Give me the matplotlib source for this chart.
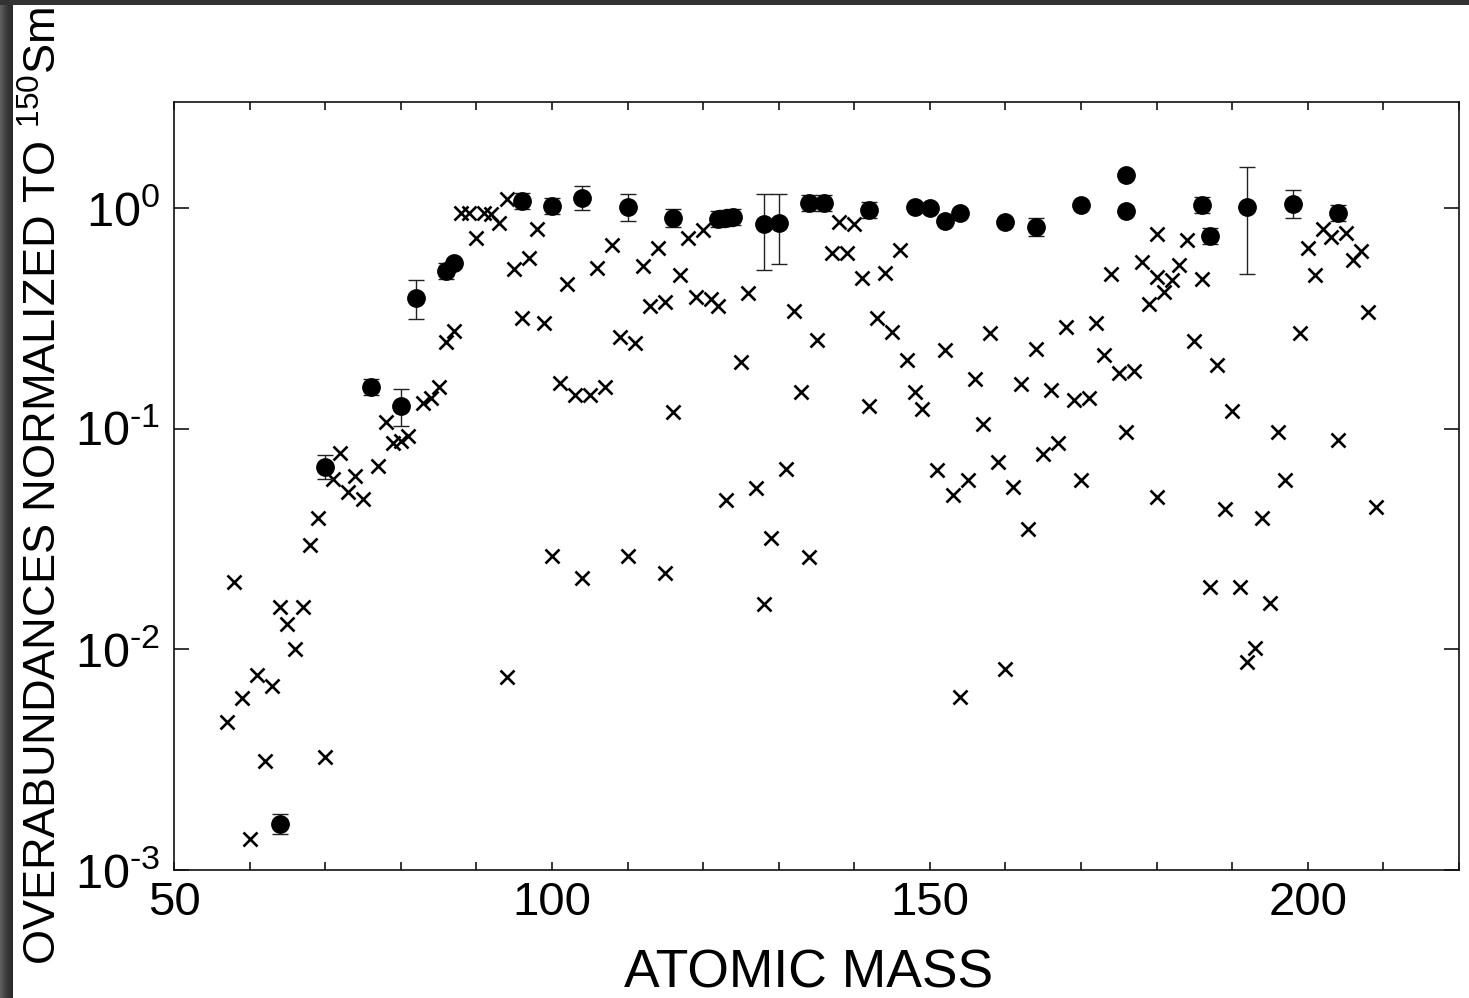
import math
import matplotlib
matplotlib.use("Agg")
import matplotlib.pyplot as plt
from matplotlib.patches import Rectangle
from matplotlib.ticker import FixedLocator, MultipleLocator, LogLocator, NullLocator, FuncFormatter

plt.rcParams['font.family'] = ['Liberation Sans', 'DejaVu Sans']
plt.rcParams['mathtext.fontset'] = 'custom'
plt.rcParams['mathtext.rm'] = 'Liberation Sans'
plt.rcParams['mathtext.it'] = 'Liberation Sans:italic'
plt.rcParams['mathtext.bf'] = 'Liberation Sans:bold'
plt.rcParams['mathtext.default'] = 'regular'

# s-only isotopes (filled circles) with error range
circ_mass = [64, 70, 76, 80, 82, 86, 87, 96, 100, 104, 110, 116, 122, 123, 124,
             128, 130, 134, 136, 142, 148, 150, 152, 154, 160, 164, 170, 176, 176,
             186, 187, 192, 198, 204]
circ_ratio = [1.62e-3, 0.0672, 0.155, 0.127, 0.392, 0.519, 0.564, 1.075, 1.021, 1.11,
              1.01, 0.901, 0.89, 0.90, 0.91, 0.846, 0.855, 1.053, 1.053, 0.979,
              1.01, 1.0, 0.873, 0.949, 0.864, 0.82, 1.03, 1.41, 0.969,
              1.03, 0.747, 1.01, 1.04, 0.949]
circ_lo = [1.46e-3, 0.0594, 0.143, 0.103, 0.315, 0.477, 0.564, 0.989, 0.939, 0.98,
           0.873, 0.82, 0.819, 0.828, 0.837, 0.524, 0.558, 0.969, 0.969, 0.90,
           1.01, 1.0, 0.873, 0.949, 0.864, 0.747, 1.03, 1.41, 0.969,
           0.948, 0.687, 0.503, 0.901, 0.873]
circ_hi = [1.80e-3, 0.0760, 0.168, 0.152, 0.472, 0.564, 0.564, 1.169, 1.110, 1.258,
           1.157, 0.99, 0.967, 0.978, 0.989, 1.157, 1.157, 1.145, 1.145, 1.064,
           1.01, 1.0, 0.873, 0.949, 0.864, 0.90, 1.03, 1.41, 0.969,
           1.12, 0.812, 1.53, 1.206, 1.032]

# other isotopes (crosses)
cross_mass = [57, 58, 59, 60, 61, 62, 63, 64, 65, 66, 67, 68, 69, 70, 71, 72, 73, 74, 75,
              77, 78, 79, 80, 81, 83, 84, 85, 86, 87, 88, 89, 90, 91, 92, 93, 94, 94,
              95, 96, 97, 98, 99, 100, 101, 102, 103, 104, 105, 106, 107, 108, 109,
              110, 111, 112, 113, 114, 115, 115, 116, 117, 118, 119, 120, 121, 122,
              123, 125, 126, 127, 128, 129, 131, 132, 133, 134, 135, 137, 138, 139,
              140, 141, 142, 143, 144, 145, 146, 147, 148, 149, 151, 152, 153, 154,
              155, 156, 157, 158, 159, 160, 161, 162, 163, 164, 165, 166, 167, 168,
              169, 170, 171, 172, 173, 174, 175, 176, 177, 178, 179, 180, 180, 180,
              181, 182, 183, 184, 185, 186, 187, 188, 189, 190, 191, 192, 193, 194,
              195, 196, 197, 199, 200, 201, 202, 203, 204, 205, 206, 207, 208, 209]
cross_ratio = [0.00468, 0.0203, 0.0060, 0.00138, 0.00762, 0.00311, 0.00681, 0.0155,
               0.0131, 0.0100, 0.0155, 0.0296, 0.0396, 0.00325, 0.0594, 0.0779, 0.0519,
               0.0613, 0.0482, 0.068, 0.1076, 0.0865, 0.0883, 0.0929, 0.131, 0.138,
               0.155, 0.248, 0.278, 0.949, 0.949, 0.732, 0.949, 0.939, 0.855, 0.00747,
               1.098, 0.530, 0.318, 0.594, 0.804, 0.302, 0.0266, 0.162, 0.453, 0.1426,
               0.0210, 0.1426, 0.535, 0.155, 0.680, 0.261, 0.0266, 0.245, 0.547, 0.360,
               0.659, 0.376, 0.0223, 0.119, 0.497, 0.732, 0.396, 0.795, 0.388, 0.360,
               0.0477, 0.201, 0.412, 0.0541, 0.0160, 0.0321, 0.0659, 0.342, 0.147,
               0.0261, 0.253, 0.626, 0.864, 0.626, 0.847, 0.482, 0.127, 0.318, 0.508,
               0.275, 0.646, 0.205, 0.147, 0.123, 0.0652, 0.228, 0.0503, 0.00607,
               0.0588, 0.168, 0.105, 0.272, 0.0709, 0.00812, 0.0547, 0.160, 0.0353,
               0.230, 0.0771, 0.150, 0.0865, 0.290, 0.135, 0.0588, 0.138, 0.302, 0.216,
               0.503, 0.179, 0.0969, 0.183, 0.570, 0.368, 0.763, 0.487, 0.0492, 0.417,
               0.472, 0.552, 0.717, 0.250, 0.477, 0.0191, 0.195, 0.0435, 0.121, 0.0191,
               0.00873, 0.0101, 0.0396, 0.0163, 0.0969, 0.0588, 0.272, 0.659, 0.497,
               0.804, 0.739, 0.0891, 0.770, 0.582, 0.639, 0.338, 0.0444]

x_ticks = [50, 100, 150, 200]

fig = plt.figure(figsize=(14.69, 9.98), dpi=100)
fig.patch.set_facecolor('white')

# dark screenshot border on the left and top
greys = ['#5e5e5e', '#585858', '#525252', '#4c4c4c', '#464646', '#414141', '#3c3c3c',
         '#383838', '#343434', '#313131', '#2e2e2e', '#2c2c2c', '#2a2a2a']
for i, g in enumerate(greys):
    fig.patches.append(Rectangle((i / 1469, 0), 1 / 1469, 1, transform=fig.transFigure,
                                 facecolor=g, edgecolor='none', zorder=0))
fig.patches.append(Rectangle((0, 1 - 5 / 998), 1, 5 / 998, transform=fig.transFigure,
                             facecolor='#333333', edgecolor='none', zorder=0))

ax = fig.add_axes([174 / 1469, 1 - 870 / 998, 1285 / 1469, 768 / 998])
ax.set_facecolor('white')

ax.plot(cross_mass, cross_ratio, linestyle='none', marker='x', markersize=9.5,
        markeredgewidth=1.9, color='black', zorder=3)

yerr = [[v - lo for v, lo in zip(circ_ratio, circ_lo)],
        [hi - v for v, hi in zip(circ_ratio, circ_hi)]]
ax.errorbar(circ_mass, circ_ratio, yerr=yerr, fmt='o', markersize=12.5,
            color='black', ecolor='#222222', elinewidth=1.0, capsize=5.8,
            capthick=1.0, zorder=4)

ax.set_yscale('log')
ax.set_xlim(50, 220)
ax.set_ylim(1e-3, 3.03)


def decade_label(v, pos):
    return r'$10^{\text{%d}}$' % round(math.log10(v))


ax.xaxis.set_major_locator(FixedLocator(x_ticks))
ax.xaxis.set_minor_locator(MultipleLocator(10))
ax.yaxis.set_major_locator(LogLocator(base=10, numticks=10))
ax.yaxis.set_minor_locator(NullLocator())
ax.yaxis.set_major_formatter(FuncFormatter(decade_label))

ax.tick_params(axis='both', which='both', direction='in', top=True, right=True,
               colors='black', width=1.1)
ax.tick_params(axis='x', which='both', length=6, labelsize=34, pad=8)
ax.tick_params(axis='y', which='major', length=11, labelsize=35, pad=10)
for s in ax.spines.values():
    s.set_linewidth(1.2)
    s.set_color('#111111')

ax.set_xlabel('ATOMIC MASS', fontsize=38.5)
ax.xaxis.set_label_coords(0.494, -0.102)
ax.set_ylabel('OVERABUNDANCES NORMALIZED TO $^{150}$Sm', fontsize=32.5)
ax.yaxis.set_label_coords(-0.084, 0.5)

fig.savefig('out.png', dpi=100, facecolor=fig.get_facecolor())
